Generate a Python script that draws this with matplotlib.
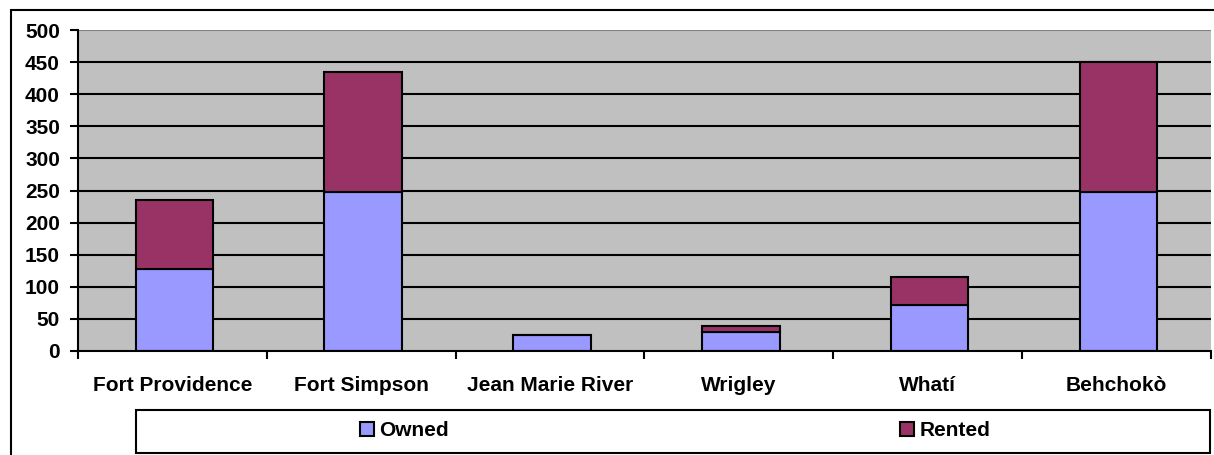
import matplotlib
matplotlib.use("Agg")
import matplotlib.pyplot as plt
from matplotlib.patches import Rectangle, Patch
import numpy as np

categories = ["Fort Providence", "Fort Simpson", "Jean Marie River", "Wrigley", "Whatí", "Behchokò"]
owned = [128, 248, 25, 29, 72, 248]
rented = [107, 187, 0, 10, 43, 202]
yticks = [0, 50, 100, 150, 200, 250, 300, 350, 400, 450, 500]

plt.rcParams['font.family'] = ['Liberation Sans', 'DejaVu Sans']
plt.rcParams['font.weight'] = 'bold'
FS = 15

W, H = 1214, 455
fig = plt.figure(figsize=(W/100, H/100), dpi=100)

def fx(px): return px / W
def fy(py): return 1 - py / H

ax = fig.add_axes([fx(78), fy(351), fx(1211) - fx(78), fy(30) - fy(351)])
ax.set_facecolor('#C0C0C0')

x = np.arange(len(categories)) + 0.01
bw = 0.41
ax.bar(x, owned, bw, color='#9999FF', edgecolor='black', linewidth=1.5, zorder=3, label='Owned')
ax.bar(x, rented, bw, bottom=owned, color='#993366', edgecolor='black', linewidth=1.5, zorder=3, label='Rented')

ax.set_xlim(-0.5, len(categories) - 0.5)
ax.set_ylim(0, 500)
ax.set_yticks(yticks)
ax.set_yticklabels([str(v) for v in yticks], fontsize=FS, fontweight='bold')
for v in yticks[1:-1]:
    ax.axhline(v, color='black', linewidth=1.5, zorder=1)
ax.axhline(500, color='#808080', linewidth=1.5, zorder=1)

ax.set_xticks(np.arange(len(categories)))
ax.set_xticklabels(categories, fontsize=FS, fontweight='bold')
ax.tick_params(axis='x', length=0, pad=18)
ax.set_xticks(np.arange(len(categories) + 1) - 0.5, minor=True)
ax.tick_params(axis='x', which='minor', length=6, width=1.5, direction='out')
ax.tick_params(axis='y', length=6, width=1.5, direction='out', pad=7)

for s in ['top', 'right']:
    ax.spines[s].set_visible(False)
for s in ['left', 'bottom']:
    ax.spines[s].set_linewidth(1.5)
    ax.spines[s].set_zorder(4)

# outer chart frame
fig.patches.append(Rectangle((fx(11), fy(470)), fx(1230) - fx(11), fy(10) - fy(470),
                             transform=fig.transFigure, fill=False, edgecolor='black',
                             linewidth=1.5, clip_on=False))
# legend box
fig.patches.append(Rectangle((fx(136), fy(453)), fx(1210) - fx(136), fy(410) - fy(453),
                             transform=fig.transFigure, fill=False, edgecolor='black',
                             linewidth=1.5, clip_on=False))

handles = [Patch(facecolor='#9999FF', edgecolor='black', linewidth=1.5),
           Patch(facecolor='#993366', edgecolor='black', linewidth=1.5)]
labels = ['Owned', 'Rented']
for h, lab, px in zip(handles, labels, [360, 900]):
    fig.legend([h], [lab], loc='center left', bbox_to_anchor=(fx(px), fy(431)),
               frameon=False, handlelength=0.67, handleheight=0.67,
               handletextpad=0.25, borderpad=0, borderaxespad=0,
               prop={'weight': 'bold', 'size': FS})

fig.savefig('out.png', dpi=100)
